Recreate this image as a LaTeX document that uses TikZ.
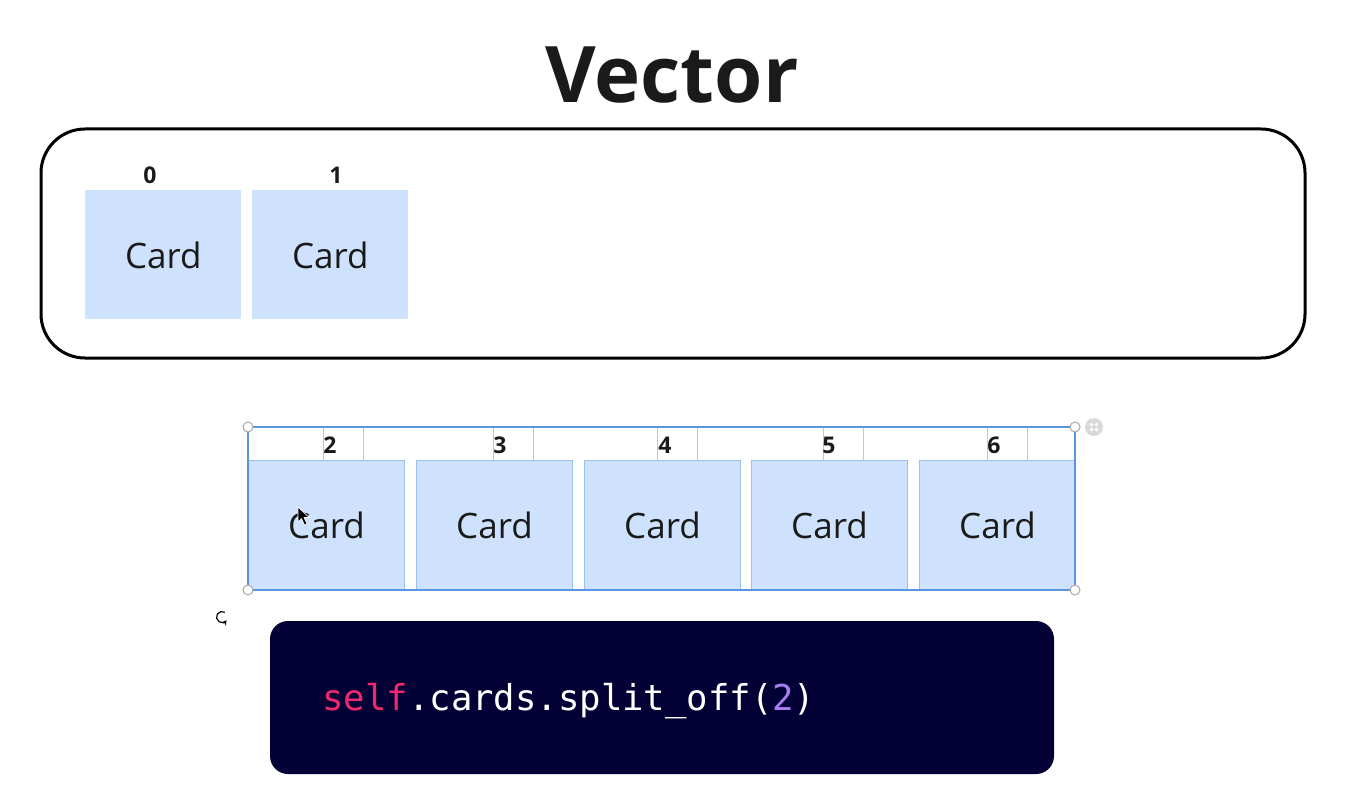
\documentclass[tikz,border=0pt]{standalone}
\usepackage{fontspec}
\setmainfont{Open Sans}
\newfontfamily\codefont{DejaVu Sans Mono}
\usetikzlibrary{arrows.meta}
\definecolor{cardfill}{HTML}{CFE2FD}
\definecolor{cardline}{HTML}{9CC0F0}
\definecolor{selblue}{HTML}{5A96E0}
\definecolor{lblline}{HTML}{B8C8E0}
\definecolor{navy}{HTML}{020035}
\definecolor{codepink}{HTML}{F0286E}
\definecolor{codepurple}{HTML}{A97DF0}
\definecolor{handlegray}{HTML}{A8A8A8}
\definecolor{ink}{HTML}{1A1A1A}
\begin{document}
\begin{tikzpicture}[x=0.5pt,y=-0.5pt,
  card/.style={fill=cardfill, minimum width=78pt, minimum height=64.5pt, anchor=north west, inner sep=0pt, font=\fontsize{17.5}{20}\selectfont, text=ink},
  selcard/.style={card, draw=cardline, line width=0.5pt},
  idx/.style={inner sep=0pt, font=\fontsize{11.5}{13}\selectfont\bfseries, text=ink},
  handle/.style={circle, draw=handlegray, fill=white, line width=0.5pt, minimum size=5pt, inner sep=0pt},
  lblbox/.style={draw=lblline, line width=0.5pt}]
\useasboundingbox (0,0) rectangle (1352,796);
% title
\node[inner sep=0pt, font=\fontsize{39}{45}\selectfont\bfseries, text=ink] (title) at (672,75) {Vector};
% vector container
\draw[line width=1.5pt, rounded corners=22pt] (41,129) rectangle (1305,358);
\node[card] (c0) at (85,190) {Card};
\node[card] (c1) at (252,190) {Card};
\node[idx] (i0) at (150,175) {0};
\node[idx] (i1) at (336,175) {1};
% split off cards
\foreach \x/\lx/\n in {248/323/2, 416/493/3, 584/657/4, 751/823/5, 919/987/6}{
  \draw[lblbox] (\lx,427) -- (\lx,460) (\lx+40,427) -- (\lx+40,460);
  \node[selcard] (s\n) at (\x,460) {Card};
}
\node[idx] (i2) at (330,445) {2};
\node[idx] (i3) at (500,445) {3};
\node[idx] (i4) at (665,445) {4};
\node[idx] (i5) at (829,445) {5};
\node[idx] (i6) at (994,445) {6};
% selection frame
\draw[selblue, line width=0.6pt] (248,427) rectangle (1075,590);
\node[handle] (h1) at (248,427) {};
\node[handle] (h2) at (1075,427) {};
\node[handle] (h3) at (248,590) {};
\node[handle] (h4) at (1075,590) {};
\node[circle, fill=black!15, minimum size=9pt, inner sep=0pt] (grab) at (1094,427) {};
\foreach \dx/\dy in {-2.5/-2.5, 2.5/-2.5, -2.5/2.5, 2.5/2.5}
  \fill[white] (1094+\dx,427+\dy) circle (0.9pt);
% rotate icon
\begin{scope}[shift={(222,617)}, x=0.5pt, y=0.5pt]
  \draw[line width=0.6pt, -{Stealth[length=2.5pt,width=2.8pt]}] (60:5.5) arc (60:325:5.5);
\end{scope}
% cursor
\fill[black] (298,507) -- (298,522) -- (301.5,518.5) -- (304.5,525) -- (307,524) -- (304,517.5) -- (309,517.5) -- cycle;
\draw[white, line width=0.3pt] (298,507) -- (298,522) -- (301.5,518.5) -- (304.5,525) -- (307,524) -- (304,517.5) -- (309,517.5) -- cycle;
% code block
\fill[navy, rounded corners=9pt] (270,621) rectangle (1054,774);
\node[anchor=base west, inner sep=0pt, font=\codefont\fontsize{17.8}{20}\selectfont, text=white] (code) at (322,710) {\textcolor{codepink}{self}.cards.split\_off(\textcolor{codepurple}{2})};
\end{tikzpicture}
\end{document}
